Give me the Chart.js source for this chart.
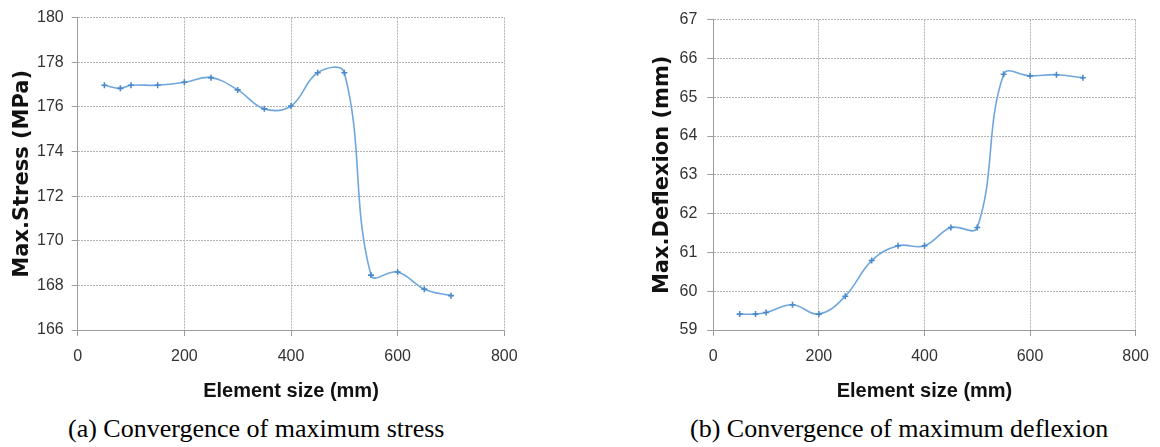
<!DOCTYPE html>
<html>
<head>
<meta charset="utf-8">
<script src="https://cdn.jsdelivr.net/npm/chart.js@4.4.1/dist/chart.umd.min.js"></script>
<style>
  html, body { margin: 0; padding: 0; background: #ffffff; }
  body { width: 1160px; height: 447px; position: relative; overflow: hidden; }
  canvas { position: absolute; top: 0; }
  #c1 { left: 0; }
  #c2 { left: 600px; }
  .cap { position: absolute; top: 416px; font-family: "Liberation Serif", "Times New Roman", serif;
         font-size: 26px; line-height: 26px; color: #000; white-space: nowrap; }
  #cap1 { left: 68px; }
  #cap2 { left: 690px; }
</style>
</head>
<body>
<canvas id="c1" width="560" height="410" style="width:560px;height:410px"></canvas>
<canvas id="c2" width="560" height="410" style="width:560px;height:410px"></canvas>
<div class="cap" id="cap1">(a) Convergence of maximum stress</div>
<div class="cap" id="cap2">(b) Convergence of maximum deflexion</div>
<script>
// ---- data ----
const elementSizes = [50, 80, 100, 150, 200, 250, 300, 350, 400, 450, 500, 550, 600, 650, 700];
const maxStress = [176.97, 176.83, 176.97, 176.97, 177.10, 177.31, 176.76, 175.91, 176.04, 177.53, 177.53, 168.46, 168.60, 167.83, 167.54];
const maxDeflexion = [59.41, 59.41, 59.45, 59.65, 59.41, 59.87, 60.79, 61.17, 61.17, 61.64, 61.64, 65.59, 65.55, 65.58, 65.50];
const xTitle = "Element size (mm)";
const stressTitle = "Max.Stress (MPa)";
const deflexionTitle = "Max.Deflexion (mm)";
const xRange = { min: 0, max: 800, step: 200 };
const stressRange = { min: 166, max: 180, step: 2 };
const deflexionRange = { min: 59, max: 67, step: 1 };

function pairs(xs, ys) { return xs.map((x, i) => ({ x: x, y: ys[i] })); }

const gridColor = '#b4b4b4';
const axisColor = '#9c9c9c';
const tickFont = { family: "'Liberation Sans', Arial, sans-serif", size: 16 };

function makeChart(id, values, yTitle, yRange, yAxisWidth, padRight, yTitlePad, yTickPad) {
  return new Chart(document.getElementById(id), {
    type: 'line',
    data: {
      datasets: [{
        data: pairs(elementSizes, values),
        borderColor: '#6fa7dd',
        borderWidth: 1.6,
        tension: 0.4,
        fill: false,
        pointStyle: 'cross',
        pointRadius: 3,
        pointBorderWidth: 1.6,
        pointBorderColor: '#4a89cc',
        pointBackgroundColor: '#4a89cc'
      }]
    },
    options: {
      responsive: false,
      devicePixelRatio: 1,
      animation: false,
      events: [],
      layout: { padding: { top: 15.7, right: padRight, bottom: 0, left: 0 } },
      plugins: { legend: { display: false }, tooltip: { enabled: false }, title: { display: false } },
      scales: {
        x: {
          type: 'linear',
          min: xRange.min, max: xRange.max,
          afterFit: (s) => { s.height = 80; },
          ticks: { stepSize: xRange.step, color: '#333333', font: tickFont, padding: 11, maxRotation: 0 },
          grid: { color: gridColor, lineWidth: 1, drawTicks: true, tickLength: 6, tickColor: axisColor, tickBorderDash: [] },
          border: { display: true, color: axisColor, width: 1, dash: [2, 1] },
          title: { display: true, text: xTitle, color: '#111111',
                   font: { family: "'Liberation Sans', Arial, sans-serif", size: 20, weight: 'bold' },
                   padding: { top: 0, bottom: 7 } }
        },
        y: {
          type: 'linear',
          min: yRange.min, max: yRange.max,
          afterFit: (s) => { s.width = yAxisWidth; },
          ticks: { stepSize: yRange.step, color: '#333333', font: tickFont, padding: yTickPad },
          grid: { color: gridColor, lineWidth: 1, drawTicks: true, tickLength: 6, tickColor: axisColor, tickBorderDash: [] },
          border: { display: true, color: axisColor, width: 1, dash: [2, 1] },
          title: { display: true, text: yTitle, color: '#111111',
                   font: { family: "'DejaVu Sans', Verdana, sans-serif", size: 21, weight: 'bold' },
                   padding: { top: yTitlePad, bottom: 0 } }
        }
      }
    }
  });
}

makeChart('c1', maxStress, stressTitle, stressRange, 77.7, 55.7, 10.4, 8);
makeChart('c2', maxDeflexion, deflexionTitle, deflexionRange, 113.3, 16.3, 50.4, 10);
</script>
</body>
</html>
